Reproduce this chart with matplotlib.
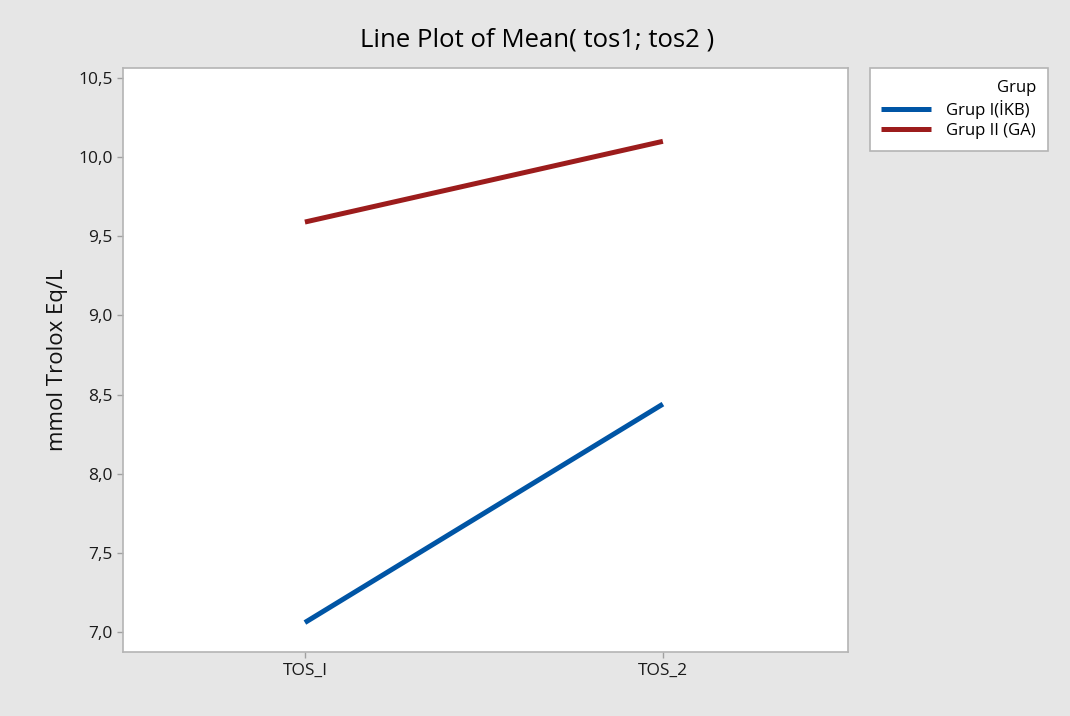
import matplotlib.pyplot as plt
import numpy as np

plt.rcParams['font.family'] = ['Open Sans', 'DejaVu Sans']

# data
categories = ['TOS_I', 'TOS_2']
grup1 = [7.06, 8.44]   # Grup I(İKB)
grup2 = [9.59, 10.10]  # Grup II (GA)
yticks = [7.0, 7.5, 8.0, 8.5, 9.0, 9.5, 10.0, 10.5]

fig = plt.figure(figsize=(10.7, 7.16), dpi=100, facecolor='#e6e6e6')
ax = fig.add_axes([0.115, 0.0894, 0.6775, 0.8156])
ax.set_facecolor('white')

x = np.arange(len(categories))
ax.plot(x, grup1, color='#0055a5', lw=3.6, label='Grup I(İKB)', solid_capstyle='butt')
ax.plot(x, grup2, color='#9c1c1c', lw=3.6, label='Grup II (GA)', solid_capstyle='butt')

ax.set_xlim(-0.508, 1.517)
ax.set_ylim(6.874, 10.563)
ax.set_xticks(x)
ax.set_xticklabels(categories, fontsize=12.5)
ax.set_yticks(yticks)
ax.set_yticklabels([('%.1f' % v).replace('.', ',') for v in yticks], fontsize=12.5)

for s in ax.spines.values():
    s.set_color('#b4b4b4')
    s.set_linewidth(1.2)
ax.tick_params(color='#a0a0a0', length=4, width=1, labelcolor='#1a1a1a')

ax.set_ylabel('mmol Trolox Eq/L', fontsize=16, labelpad=7, color='#111111')
fig.suptitle('Line Plot of Mean( tos1; tos2 )', fontsize=18.5, y=0.962, x=0.502)

leg = ax.legend(title='Grup', loc='upper left', bbox_to_anchor=(1.03, 1.0),
                borderaxespad=0, fontsize=12, title_fontsize=12, frameon=True,
                fancybox=False, facecolor='white', framealpha=1,
                edgecolor='#b4b4b4', handlelength=3.0, alignment='right',
                borderpad=0.7, labelspacing=0.25, handletextpad=0.9)
leg.get_frame().set_linewidth(1.2)

fig.savefig('out.png', dpi=100, facecolor=fig.get_facecolor())
